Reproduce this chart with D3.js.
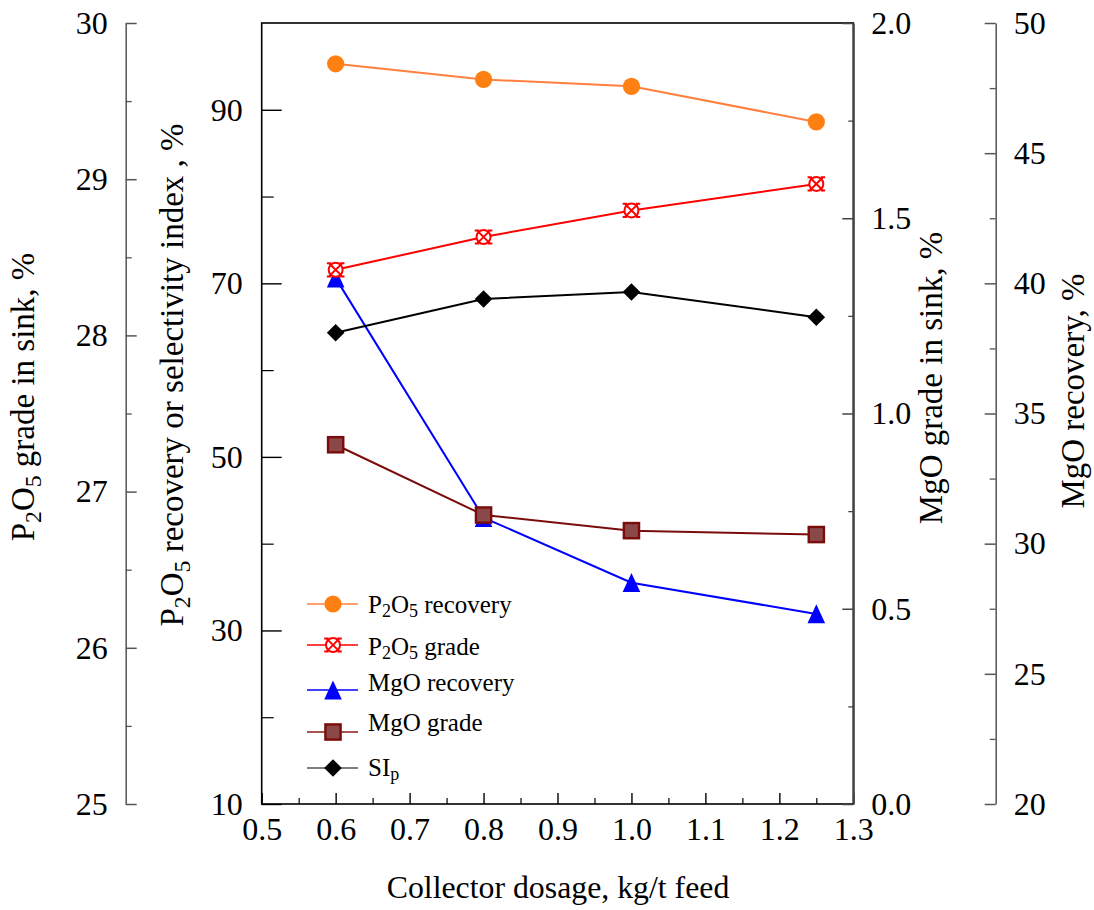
<!DOCTYPE html>
<html>
<head>
<meta charset="utf-8">
<script src="https://cdn.jsdelivr.net/npm/d3@7/dist/d3.min.js"></script>
<style>
  html, body { margin: 0; padding: 0; background: #fff; }
  svg text, svg tspan { font-family: "Liberation Serif", "Times New Roman", serif; fill: #000; }
</style>
</head>
<body>
<svg id="chart" width="1094" height="910"></svg>
<script>
// Collector dosage (kg/t feed) and measured responses
const dosage = [0.6, 0.8, 1.0, 1.25];
const p2o5Recovery = [95.3, 93.5, 92.7, 88.6];   // %, recovery / selectivity axis
const p2o5Grade    = [28.42, 28.63, 28.80, 28.97]; // %, P2O5 grade axis
const mgoRecovery  = [40.2, 31.0, 28.5, 27.3];     // %, MgO recovery axis
const mgoGrade     = [0.92, 0.74, 0.70, 0.69];     // %, MgO grade axis
const siP          = [64.3, 68.2, 69.0, 66.1];     // selectivity index

// Tick values for each axis
const xTicks = [0.5, 0.6, 0.7, 0.8, 0.9, 1.0, 1.1, 1.2, 1.3];
const xMinorTicks = [0.55, 0.65, 0.75, 0.85, 0.95, 1.05, 1.15, 1.25];
const gradeTicks = [25, 26, 27, 28, 29, 30];
const gradeMinorTicks = [25.5, 26.5, 27.5, 28.5, 29.5];
const recTicks = [10, 30, 50, 70, 90];
const recMinorTicks = [20, 40, 60, 80];
const mgoGradeTicks = [0.0, 0.5, 1.0, 1.5, 2.0];
const mgoGradeMinorTicks = [0.25, 0.75, 1.25, 1.75];
const mgoRecTicks = [20, 25, 30, 35, 40, 45, 50];
const mgoRecMinorTicks = [22.5, 27.5, 32.5, 37.5, 42.5, 47.5];

// Legend entries (underscore marks a one-character subscript)
const legendLabels = ["P_2O_5 recovery", "P_2O_5 grade", "MgO recovery", "MgO grade", "SI_p"];

const SERIF = '"Liberation Serif", "Times New Roman", serif';
const svg = d3.select("#chart");
const box = { left: 261.7, right: 853.3, top: 23, bottom: 804 };
const farLeftX = 125.7, farRightX = 995.7;
const FONT = 32;         // tick labels
const TITLE_FONT = 33;   // vertical axis titles
const XTITLE_FONT = 31.8;

const x = d3.scaleLinear().domain([0.5, 1.3]).range([box.left, box.right]);
const yRec = d3.scaleLinear().domain([10, 100]).range([box.bottom, box.top]);
const yPG = d3.scaleLinear().domain([25, 30]).range([box.bottom, box.top]);
const yMG = d3.scaleLinear().domain([0, 2]).range([box.bottom, box.top]);
const yMR = d3.scaleLinear().domain([20, 50]).range([box.bottom, box.top]);

function styleAxis(g, color, width, fontSize) {
  g.selectAll("path.domain").attr("stroke", color).attr("stroke-width", width);
  g.selectAll(".tick line").attr("stroke", color).attr("stroke-width", width);
  g.selectAll(".tick text").attr("font-size", fontSize).attr("fill", "#000")
    .style("font-family", SERIF);
  g.attr("font-family", null).attr("font-size", null);
}

// Plot frame
svg.append("rect")
  .attr("x", box.left).attr("y", box.top)
  .attr("width", box.right - box.left).attr("height", box.bottom - box.top)
  .attr("fill", "none").attr("stroke", "#000").attr("stroke-width", 1.6);

// Bottom axis
const gx = svg.append("g").attr("transform", `translate(0,${box.bottom})`)
  .call(d3.axisBottom(x).tickValues(xTicks).tickFormat(d3.format(".1f"))
    .tickSize(-11).tickSizeOuter(0).tickPadding(13));
styleAxis(gx, "#000", 1.4, FONT);
gx.select("path.domain").remove();
const gxm = svg.append("g").attr("transform", `translate(0,${box.bottom})`)
  .call(d3.axisBottom(x).tickValues(xMinorTicks).tickFormat("").tickSize(-6).tickSizeOuter(0));
styleAxis(gxm, "#000", 1.2, FONT);
gxm.select("path.domain").remove();

// Inner left axis: recovery or selectivity index
const gr = svg.append("g").attr("transform", `translate(${box.left},0)`)
  .call(d3.axisLeft(yRec).tickValues(recTicks).tickSize(-20).tickSizeOuter(0).tickPadding(19));
styleAxis(gr, "#000", 1.4, FONT);
gr.select("path.domain").remove();
const grm = svg.append("g").attr("transform", `translate(${box.left},0)`)
  .call(d3.axisLeft(yRec).tickValues(recMinorTicks).tickFormat("").tickSize(-12).tickSizeOuter(0));
styleAxis(grm, "#000", 1.2, FONT);
grm.select("path.domain").remove();

// Far left axis: P2O5 grade
const gpg = svg.append("g").attr("transform", `translate(${farLeftX},0)`)
  .call(d3.axisLeft(yPG).tickValues(gradeTicks).tickFormat(d3.format("d"))
    .tickSize(-11).tickSizeOuter(0).tickPadding(18));
styleAxis(gpg, "#555", 1.5, FONT);
const gpgm = svg.append("g").attr("transform", `translate(${farLeftX},0)`)
  .call(d3.axisLeft(yPG).tickValues(gradeMinorTicks).tickFormat("").tickSize(-6).tickSizeOuter(0));
styleAxis(gpgm, "#555", 1.3, FONT);
gpgm.select("path.domain").remove();

// Right axis on the frame: MgO grade
const gmg = svg.append("g").attr("transform", `translate(${box.right},0)`)
  .call(d3.axisRight(yMG).tickValues(mgoGradeTicks).tickFormat(d3.format(".1f"))
    .tickSize(-11).tickSizeOuter(0).tickPadding(18));
styleAxis(gmg, "#444", 2, FONT);
gmg.selectAll(".tick line").attr("stroke-width", 1.5);
const gmgm = svg.append("g").attr("transform", `translate(${box.right},0)`)
  .call(d3.axisRight(yMG).tickValues(mgoGradeMinorTicks).tickFormat("").tickSize(-5).tickSizeOuter(0));
styleAxis(gmgm, "#444", 1.3, FONT);
gmgm.select("path.domain").remove();

// Far right axis: MgO recovery
const gmr = svg.append("g").attr("transform", `translate(${farRightX},0)`)
  .call(d3.axisRight(yMR).tickValues(mgoRecTicks).tickFormat(d3.format("d"))
    .tickSize(-11).tickSizeOuter(0).tickPadding(18));
styleAxis(gmr, "#555", 1.5, FONT);
const gmrm = svg.append("g").attr("transform", `translate(${farRightX},0)`)
  .call(d3.axisRight(yMR).tickValues(mgoRecMinorTicks).tickFormat("").tickSize(-6).tickSizeOuter(0));
styleAxis(gmrm, "#555", 1.3, FONT);
gmrm.select("path.domain").remove();

// Text with single-character subscripts written as "_x"
function richText(sel, str, size, shiftRatio) {
  const parts = [];
  let buf = "";
  for (let i = 0; i < str.length; i++) {
    if (str[i] === "_" && i + 1 < str.length) {
      if (buf) parts.push({ t: buf, sub: false });
      parts.push({ t: str[i + 1], sub: true });
      buf = ""; i++;
    } else buf += str[i];
  }
  if (buf) parts.push({ t: buf, sub: false });
  const shift = size * shiftRatio;
  let down = false;
  sel.style("font-family", SERIF);
  parts.forEach(p => {
    const ts = sel.append("tspan").text(p.t).style("font-family", SERIF);
    if (p.sub) {
      ts.attr("font-size", size * 0.72).attr("dy", down ? 0 : shift);
      down = true;
    } else {
      ts.attr("font-size", size).attr("dy", down ? -shift : 0);
      down = false;
    }
  });
  return sel;
}

// Axis titles
function vTitle(cx, cy, str) {
  const t = svg.append("text")
    .attr("transform", `translate(${cx},${cy}) rotate(-90)`)
    .attr("text-anchor", "middle").attr("font-size", TITLE_FONT);
  richText(t, str, TITLE_FONT, 0.22);
}
vTitle(34, 397, "P_2O_5 grade in sink, %");
vTitle(183, 375, "P_2O_5 recovery or selectivity index , %");
vTitle(942, 378, "MgO grade in sink, %");
vTitle(1084, 391, "MgO recovery, %");
svg.append("text").attr("x", 558).attr("y", 898).attr("text-anchor", "middle")
  .attr("font-size", XTITLE_FONT).style("font-family", SERIF).text("Collector dosage, kg/t feed");

// Marker painters
const markers = {
  circle(g) {
    g.append("circle").attr("r", 8.6).attr("fill", "#ff8012");
  },
  crossCircle(g) {
    const r = 7, d = 6.6, s = 2.2;
    g.append("circle").attr("r", r).attr("fill", "#fff").attr("stroke", "#ff0000").attr("stroke-width", 2);
    g.append("path")
      .attr("d", `M${-d},${-d}L${d},${d}M${-d},${d}L${d},${-d}` +
        `M${-d - s},${-d}L${-d + s},${-d}M${d - s},${-d}L${d + s},${-d}` +
        `M${-d - s},${d}L${-d + s},${d}M${d - s},${d}L${d + s},${d}`)
      .attr("stroke", "#ff0000").attr("stroke-width", 2).attr("fill", "none");
  },
  triangle(g) {
    g.append("path").attr("d", "M0,-9.6L8.8,9.4L-8.8,9.4Z").attr("fill", "#0000ff");
  },
  square(g) {
    g.append("rect").attr("x", -7.6).attr("y", -7.6).attr("width", 15.2).attr("height", 15.2)
      .attr("fill", "#8a4848").attr("stroke", "#7a0c0c").attr("stroke-width", 2.4);
  },
  diamond(g) {
    g.append("path").attr("d", "M0,-8.8L8.8,0L0,8.8L-8.8,0Z").attr("fill", "#000");
  }
};

// Series, drawn back to front
const series = [
  { values: mgoRecovery, y: yMR, line: "#0000ff", marker: "triangle" },
  { values: mgoGrade, y: yMG, line: "#7a0c0c", marker: "square" },
  { values: siP, y: yRec, line: "#000000", marker: "diamond" },
  { values: p2o5Grade, y: yPG, line: "#ff0000", marker: "crossCircle" },
  { values: p2o5Recovery, y: yRec, line: "#ff803e", marker: "circle" }
];

series.forEach(s => {
  const pts = dosage.map((d, i) => [x(d), s.y(s.values[i])]);
  svg.append("path").attr("d", d3.line()(pts))
    .attr("fill", "none").attr("stroke", s.line).attr("stroke-width", 2);
  pts.forEach(p => {
    const g = svg.append("g").attr("transform", `translate(${p[0]},${p[1]})`);
    markers[s.marker](g);
  });
});

// Legend
const legendStyle = [
  { line: "#ff803e", marker: "circle", ly: 604, ty: 613 },
  { line: "#ff0000", marker: "crossCircle", ly: 645, ty: 655 },
  { line: "#0000ff", marker: "triangle", ly: 690, ty: 691 },
  { line: "#8b1a1a", marker: "square", ly: 732, ty: 731 },
  { line: "#555555", marker: "diamond", ly: 768, ty: 776 }
];
const LEG_FONT = 25;
legendLabels.forEach((label, i) => {
  const st = legendStyle[i];
  svg.append("line").attr("x1", 307).attr("x2", 358).attr("y1", st.ly).attr("y2", st.ly)
    .attr("stroke", st.line).attr("stroke-width", 1.6);
  const g = svg.append("g").attr("transform", `translate(333,${st.ly})`);
  markers[st.marker](g);
  const t = svg.append("text").attr("x", 368).attr("y", st.ty).attr("font-size", LEG_FONT);
  richText(t, label, LEG_FONT, 0.14);
});
</script>
</body>
</html>
